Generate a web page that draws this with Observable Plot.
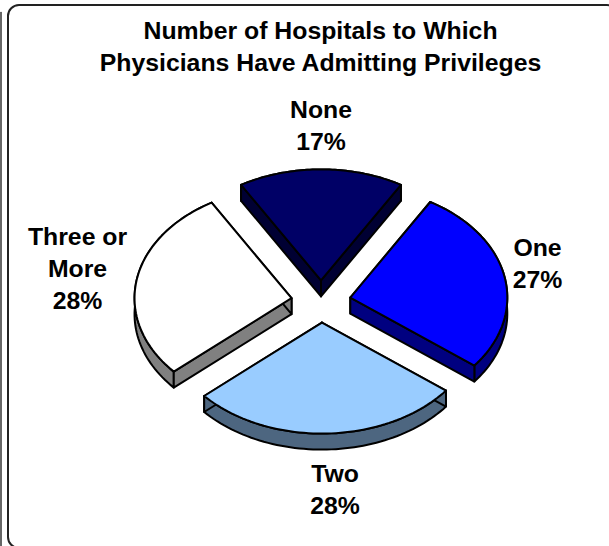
<!DOCTYPE html>
<html>
<head>
<meta charset="utf-8">
<script src="https://cdn.jsdelivr.net/npm/d3@7"></script>
<script src="https://cdn.jsdelivr.net/npm/@observablehq/plot@0.6"></script>
<style>html,body{margin:0;padding:0;background:#fff;overflow:hidden}svg{display:block}</style>
</head>
<body>
<div id="chart"></div>
<script>
const categories = ["None", "One", "Two", "Three or\nMore"];
const shares = [17, 27, 28, 28];
const faceColors = ["#000066", "#0000ff", "#99ccff", "#ffffff"];
const wallColors = ["#000033", "#000080", "#4d6680", "#808080"];
const labelX = [320.5, 537, 334.5, 77];
const labelY = [123, 261, 487, 266];
const titleLines = ["Number of Hospitals to Which", "Physicians Have Admitting Privileges"];

const W = 609, H = 546;
const cx = 320.5, cy = 301, rx = 157, ry = 111, depth = 16, explode = 0.19;
const rad = d => d * Math.PI / 180;

// Slices run clockwise from the top; the first slice is centred on twelve o'clock.
let angle = -shares[0] * 3.6 / 2;
const slices = shares.map((s, i) => {
  const a0 = angle, a1 = angle + s * 3.6;
  angle = a1;
  const mid = (a0 + a1) / 2;
  return {
    i, a0, a1,
    x0: cx + explode * rx * Math.sin(rad(mid)),
    y0: cy - explode * ry * Math.cos(rad(mid))
  };
});

function rim(sl, dz = 0) {
  return d3.range(0, 61).map(k => {
    const a = rad(sl.a0 + (sl.a1 - sl.a0) * k / 60);
    return { x: sl.x0 + rx * Math.sin(a), y: sl.y0 - ry * Math.cos(a) + dz };
  });
}
const shape = (pts, fill, sw = 2) =>
  Plot.line([...pts, pts[0]], { x: "x", y: "y", fill, stroke: "#000", strokeWidth: sw, strokeLinejoin: "round", curve: "linear" });

const sliceMarks = slices.flatMap(sl => {
  const top = rim(sl), low = rim(sl, depth);
  const tip = { x: sl.x0, y: sl.y0 }, tipLow = { x: sl.x0, y: sl.y0 + depth };
  const wall = wallColors[sl.i];
  return [
    shape([...top, ...low.slice().reverse()], wall),
    shape([tip, top[0], low[0], tipLow], wall),
    shape([tip, top[60], low[60], tipLow], wall),
    shape([tip, ...top], faceColors[sl.i])
  ];
});

const labels = categories.map((c, i) => ({ text: `${c}\n${shares[i]}%`, x: labelX[i], y: labelY[i] }));
const titles = titleLines.map((t, i) => ({ text: t, x: 320, y: 31 + i * 32 }));

const font = { fontFamily: "Liberation Sans, Arial, sans-serif", fontWeight: "bold", fill: "#000", stroke: "none" };

const chart = Plot.plot({
  width: W, height: H,
  margin: 0,
  style: { background: "#fff" },
  x: { domain: [0, W], range: [0, W], axis: null },
  y: { domain: [0, H], range: [0, H], axis: null },
  marks: [
    Plot.rect([{ x1: 8, x2: 618, y1: 5, y2: 548 }], { x1: "x1", x2: "x2", y1: "y1", y2: "y2", rx: 11, fill: "#fff", stroke: "#222", strokeWidth: 2 }),
    Plot.line([{ x: 0.5, y: 12 }, { x: 0.5, y: 546 }], { x: "x", y: "y", stroke: "#333", strokeWidth: 1.5 }),
    ...sliceMarks,
    Plot.text(titles, { x: "x", y: "y", text: "text", fontSize: 24.8, ...font }),
    Plot.text(labels, { x: "x", y: "y", text: "text", fontSize: 24.8, lineHeight: 1.29, ...font })
  ]
});
document.getElementById("chart").append(chart);
</script>
</body>
</html>
